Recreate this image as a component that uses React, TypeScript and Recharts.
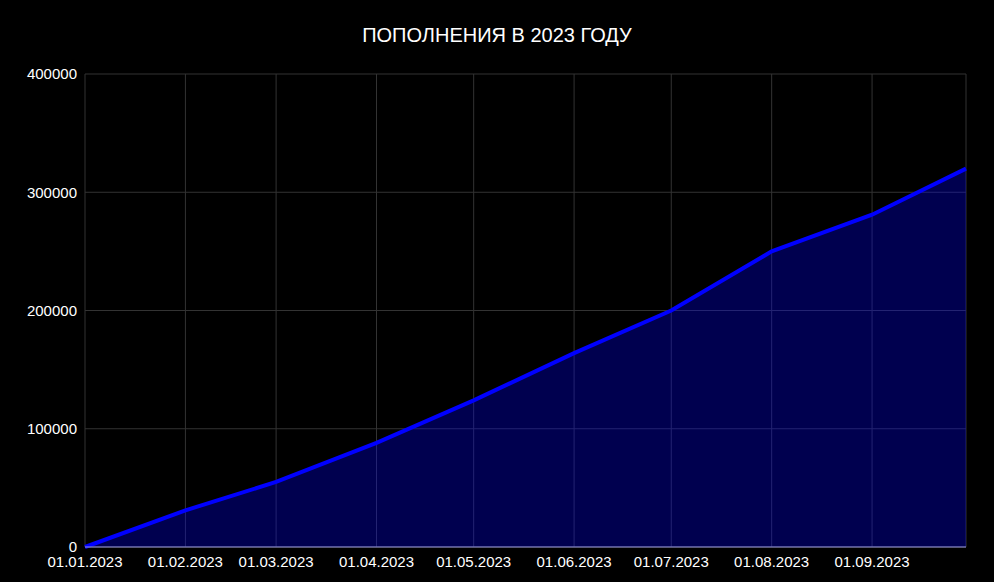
import { AreaChart, Area, XAxis, YAxis, CartesianGrid } from "recharts";

const dates = [
  "2023-01-01", "2023-02-01", "2023-03-01", "2023-04-01", "2023-05-01",
  "2023-06-01", "2023-07-01", "2023-08-01", "2023-09-01", "2023-09-30",
];
const amounts = [0, 31000, 55000, 88000, 124000, 164000, 200000, 250000, 281000, 320000];
const tickDates = [
  "2023-01-01", "2023-02-01", "2023-03-01", "2023-04-01", "2023-05-01",
  "2023-06-01", "2023-07-01", "2023-08-01", "2023-09-01",
];
const yTicks = [0, 100000, 200000, 300000, 400000];

const toTs = (s: string) => Date.parse(s + "T00:00:00Z");

const fmtDate = (ts: number) => {
  const d = new Date(ts);
  const dd = String(d.getUTCDate()).padStart(2, "0");
  const mm = String(d.getUTCMonth() + 1).padStart(2, "0");
  return `${dd}.${mm}.${d.getUTCFullYear()}`;
};

const data = dates.map((d, i) => ({ ts: toTs(d), value: amounts[i] }));

export default function App() {
  const font = "'Liberation Sans', Arial, sans-serif";
  return (
    <div
      style={{
        position: "fixed",
        top: 0,
        left: 0,
        width: 994,
        height: 582,
        background: "#000",
        fontFamily: font,
      }}
    >
      <div
        style={{
          position: "absolute",
          top: 23,
          left: 0,
          width: 994,
          textAlign: "center",
          color: "#fff",
          fontSize: 20,
          lineHeight: "24px",
        }}
      >
        ПОПОЛНЕНИЯ В 2023 ГОДУ
      </div>
      <AreaChart
        width={994}
        height={582}
        data={data}
        margin={{ top: 74, right: 28, bottom: 5, left: 0 }}
      >
        <CartesianGrid stroke="#333" />
        <XAxis
          dataKey="ts"
          type="number"
          scale="time"
          height={30}
          domain={[toTs(dates[0]), toTs(dates[dates.length - 1])]}
          ticks={tickDates.map(toTs)}
          tickFormatter={fmtDate}
          tick={{ fill: "#fff", fontSize: 15, fontFamily: font }}
          tickLine={false}
          tickSize={0}
          tickMargin={9}
          axisLine={{ stroke: "#9a9ad8", strokeWidth: 1 }}
          interval={0}
        />
        <YAxis
          width={85}
          domain={[0, 400000]}
          ticks={yTicks}
          tick={{ fill: "#fff", fontSize: 15, fontFamily: font }}
          tickLine={false}
          tickSize={0}
          tickMargin={8}
          axisLine={false}
        />
        <Area
          type="linear"
          dataKey="value"
          stroke="#0000ff"
          strokeWidth={4}
          fill="#0000ff"
          fillOpacity={0.31}
          dot={false}
          activeDot={false}
          isAnimationActive={false}
        />
      </AreaChart>
    </div>
  );
}
